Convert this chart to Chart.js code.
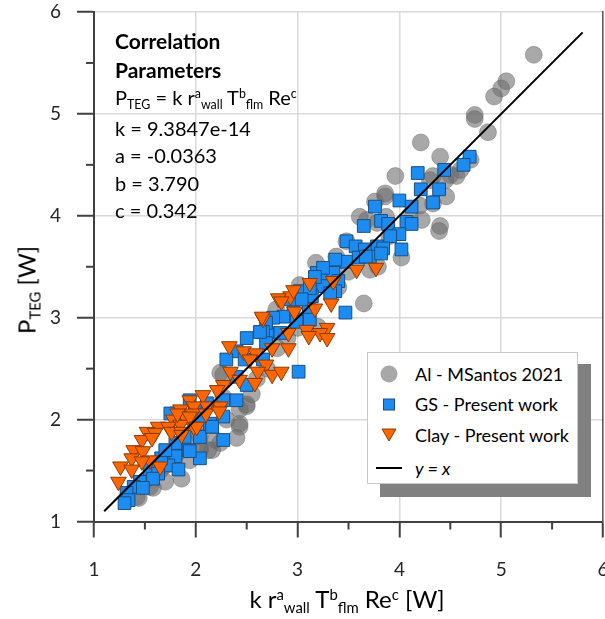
<!DOCTYPE html>
<html>
<head>
<meta charset="utf-8">
<script src="https://cdn.jsdelivr.net/npm/chart.js@4.4.0/dist/chart.umd.min.js"></script>
<style>
html, body { margin: 0; padding: 0; background: #fff; overflow: hidden; }
#wrap { position: relative; width: 605px; height: 619px; overflow: hidden; font-family: Lato, 'Open Sans', sans-serif; color: #000; }
#chart { position: absolute; left: 0; top: 0; }
.sb { font-size: 0.62em; position: relative; top: 0.35em; }
.sp { font-size: 0.62em; position: relative; top: -0.55em; }
#note { position: absolute; left: 115px; top: 27px; font-size: 20px; line-height: 27.5px; white-space: nowrap; }
#note b { font-weight: 700; font-size: 21px; }
#xtitle { position: absolute; left: 0; width: 694px; top: 584px; text-align: center; font-size: 24px; white-space: nowrap; }
#ytitle { position: absolute; left: 26px; top: 290px; transform: translate(-50%, -50%) rotate(-90deg); font-size: 24px; white-space: nowrap; }
#lshadow { position: absolute; left: 380px; top: 364px; width: 211px; height: 133px; background: #808080; }
#legend { position: absolute; left: 367px; top: 352px; width: 211px; height: 132px; background: #fff; border: 1px solid #c8c8c8; box-sizing: border-box; font-size: 18px; }
#legend .row { position: absolute; left: 47px; height: 24px; line-height: 24px; white-space: nowrap; }
#legend svg { position: absolute; }
</style>
</head>
<body>
<div id="wrap">
  <canvas id="chart" width="625" height="619"></canvas>
  <div id="note">
    <b>Correlation</b><br>
    <b>Parameters</b><br>
    P<span class="sb">TEG</span> = k r<span class="sp">a</span><span class="sb">wall</span> T<span class="sp">b</span><span class="sb">flm</span> Re<span class="sp">c</span><br>
    k = 9.3847e-14<br>
    a = -0.0363<br>
    b = 3.790<br>
    c = 0.342
  </div>
  <div id="ytitle">P<span class="sb">TEG</span> [W]</div>
  <div id="xtitle">k r<span class="sp">a</span><span class="sb">wall</span> T<span class="sp">b</span><span class="sb">flm</span> Re<span class="sp">c</span> [W]</div>
  <div id="lshadow"></div>
  <div id="legend">
    <svg width="30" height="130" style="left:6px;top:0">
      <circle cx="15" cy="21" r="8.5" fill="rgba(110,110,110,0.6)" />
      <rect x="9.5" y="46" width="11" height="11" fill="#1c8cf2" stroke="#1a4f80" stroke-width="1" />
      <polygon points="8,76 22,76 15,88" fill="#ff6600" stroke="#8a3a00" stroke-width="1" />
      <line x1="2" y1="115" x2="28" y2="115" stroke="#000" stroke-width="2" />
    </svg>
    <div class="row" style="top:9px">Al - MSantos 2021</div>
    <div class="row" style="top:39px">GS - Present work</div>
    <div class="row" style="top:70px">Clay - Present work</div>
    <div class="row" style="top:103px"><i>y = x</i></div>
  </div>
</div>
<script>
// Ejes
const tickValues = [1, 2, 3, 4, 5, 6];
const minorValues = [1.5, 2.5, 3.5, 4.5, 5.5];

// Al - MSantos 2021
const alX = [5.32, 5.05, 5.00, 4.93, 4.74, 4.74, 4.87, 4.40, 4.21, 3.96, 4.33, 4.30, 4.46, 4.56, 4.33, 3.86, 3.76, 4.22, 4.40, 3.68,
  3.86, 4.39, 4.02, 3.87, 3.48, 3.18, 3.79, 3.65, 3.29, 3.02, 3.71, 3.78, 3.61, 3.38, 2.79, 3.20, 2.24, 2.50, 2.43, 2.43,
  2.43, 2.40, 2.24, 2.16, 2.27, 2.04, 1.90, 1.70, 1.55, 1.42, 2.27, 2.50, 2.19, 2.12, 2.04, 1.86, 1.58, 1.44, 1.63, 1.94,
  2.04, 2.60, 2.70, 2.90, 3.10, 2.55, 2.30, 2.00, 1.80, 1.70, 3.40, 3.50, 3.90, 4.10, 4.20, 4.50, 4.45, 4.60, 3.00, 2.80,
  1.65, 1.50, 4.70];
const alY = [5.58, 5.32, 5.25, 5.17, 4.99, 4.95, 4.82, 4.58, 4.72, 4.39, 4.39, 4.35, 4.19, 4.39, 4.12, 4.19, 4.14, 3.96, 3.90, 3.96,
  4.22, 3.85, 3.59, 3.99, 3.75, 3.54, 3.50, 3.14, 3.40, 3.32, 3.47, 3.93, 3.99, 3.60, 3.08, 2.91, 2.46, 2.13, 1.96, 2.10,
  1.93, 1.82, 1.77, 1.70, 2.44, 1.83, 1.77, 1.39, 1.34, 1.24, 2.22, 2.15, 1.80, 1.70, 1.72, 1.42, 1.33, 1.23, 1.54, 1.60,
  1.70, 2.40, 2.50, 2.80, 3.00, 2.25, 2.00, 1.90, 1.65, 1.55, 3.30, 3.45, 3.80, 4.00, 4.10, 4.40, 4.35, 4.45, 2.90, 2.70,
  1.50, 1.40, 4.55];

// GS - Present work
const gsX = [4.69, 4.63, 4.18, 4.44, 4.39, 4.21, 4.33, 4.00, 4.12, 3.76, 3.82, 3.89, 4.07, 4.12, 3.65, 4.00, 3.91, 3.78, 4.02, 3.84,
  3.48, 3.57, 3.66, 3.71, 3.38, 3.48, 3.60, 3.19, 3.27, 3.35, 3.40, 3.25, 3.37, 3.02, 3.14, 2.93, 3.47, 3.11, 2.96, 2.86,
  3.37, 3.82, 3.67, 3.25, 3.17, 3.32, 3.12, 3.04, 2.99, 3.12, 2.76, 2.70, 2.69, 2.66, 2.83, 2.69, 2.50, 2.40, 2.30, 2.48,
  2.66, 3.01, 2.40, 2.50, 2.40, 2.27, 2.11, 1.94, 1.99, 2.27, 1.81, 2.14, 1.75, 1.91, 2.14, 2.04, 1.89, 1.80, 1.93, 2.04,
  1.80, 1.73, 1.83, 1.55, 1.63, 1.58, 1.45, 1.39, 1.48, 1.32, 1.34, 1.30, 2.27, 2.16, 1.94, 2.63, 2.04, 1.66, 1.70];
const gsY = [4.58, 4.50, 4.42, 4.45, 4.26, 4.26, 4.13, 4.15, 4.09, 4.09, 3.95, 3.92, 3.94, 3.92, 3.90, 3.82, 3.80, 3.70, 3.67, 3.68,
  3.75, 3.70, 3.67, 3.60, 3.55, 3.55, 3.59, 3.44, 3.40, 3.44, 3.36, 3.31, 3.26, 3.26, 3.21, 3.18, 3.05, 3.08, 3.05, 3.01,
  3.57, 3.63, 3.60, 3.49, 3.40, 3.24, 3.29, 3.18, 2.96, 2.98, 3.00, 2.85, 2.95, 2.86, 2.85, 2.75, 2.80, 2.67, 2.59, 2.59,
  2.59, 2.47, 2.42, 2.34, 2.19, 2.19, 2.16, 2.19, 2.10, 2.03, 2.06, 1.96, 2.06, 2.02, 1.93, 1.83, 1.83, 1.77, 1.70, 1.62,
  1.64, 1.55, 1.51, 1.51, 1.47, 1.42, 1.39, 1.34, 1.33, 1.28, 1.21, 1.18, 1.80, 1.93, 1.69, 2.86, 2.03, 1.62, 1.70];

// Clay - Present work
const clayX = [3.58, 3.77, 3.35, 3.12, 2.93, 3.33, 3.17, 2.97, 3.29, 3.09, 2.96, 2.81, 2.66, 3.22, 2.91, 2.84, 2.65, 3.11, 3.29, 2.33,
  2.47, 2.59, 2.75, 2.91, 2.53, 2.69, 2.34, 2.61, 2.75, 2.84, 2.43, 2.27, 2.58, 2.21, 2.07, 1.94, 2.24, 2.11, 1.98, 1.85,
  1.89, 1.78, 1.98, 1.85, 1.82, 1.97, 2.10, 1.94, 2.23, 1.63, 1.73, 1.52, 1.60, 1.76, 1.86, 2.01, 1.47, 1.57, 1.39, 1.48,
  1.37, 1.55, 1.47, 1.26, 1.37, 1.65, 1.24, 1.86];
const clayY = [3.47, 3.49, 3.36, 3.34, 3.21, 3.14, 3.09, 3.06, 2.90, 2.88, 3.27, 3.19, 2.99, 2.85, 2.85, 3.16, 3.01, 2.82, 2.80, 2.72,
  2.67, 2.65, 2.70, 2.70, 2.59, 2.54, 2.47, 2.47, 2.44, 2.47, 2.39, 2.34, 2.36, 2.29, 2.24, 2.19, 2.13, 2.13, 2.13, 2.10,
  2.03, 2.00, 1.93, 1.95, 2.06, 2.06, 2.06, 2.03, 2.08, 1.93, 1.93, 1.88, 1.87, 1.88, 1.88, 1.93, 1.80, 1.82, 1.70, 1.69,
  1.62, 1.60, 1.59, 1.54, 1.51, 1.54, 1.39, 1.85];

// Linea y = x
const lineX = [1.1, 5.8];

const axisColor = '#404040';
const gridColor = '#d9d9d9';

function toPoints(xs, ys) {
    return xs.map((x, i) => ({ x: x, y: ys[i] }));
}

// Ticks menores (sin etiqueta)
const minorTicks = {
    id: 'minorTicks',
    afterDraw(chart) {
        const { ctx, scales: { x, y } } = chart;
        ctx.save();
        ctx.strokeStyle = axisColor;
        ctx.lineWidth = 2;
        minorValues.forEach(v => {
            const px = x.getPixelForValue(v);
            ctx.beginPath();
            ctx.moveTo(px, x.top);
            ctx.lineTo(px, x.top + 8);
            ctx.stroke();
            const py = y.getPixelForValue(v);
            ctx.beginPath();
            ctx.moveTo(y.right, py);
            ctx.lineTo(y.right - 8, py);
            ctx.stroke();
        });
        ctx.restore();
    }
};

Chart.defaults.font.family = 'Lato';

const ctx = document.getElementById('chart').getContext('2d');
const chart = new Chart(ctx, {
    type: 'scatter',
    data: {
        datasets: [
            {
                type: 'line',
                label: 'y = x',
                data: toPoints(lineX, lineX),
                borderColor: '#000',
                borderWidth: 2,
                pointRadius: 0,
                order: 0
            },
            {
                label: 'Clay - Present work',
                data: toPoints(clayX, clayY),
                pointStyle: 'triangle',
                pointRotation: 180,
                pointRadius: 9,
                backgroundColor: '#ff6600',
                borderColor: '#8a3a00',
                borderWidth: 1,
                order: 1
            },
            {
                label: 'GS - Present work',
                data: toPoints(gsX, gsY),
                pointStyle: 'rect',
                pointRadius: 9,
                backgroundColor: '#1c8cf2',
                borderColor: '#1a4f80',
                borderWidth: 1,
                order: 2
            },
            {
                label: 'Al - MSantos 2021',
                data: toPoints(alX, alY),
                pointStyle: 'circle',
                pointRadius: 8.5,
                backgroundColor: 'rgba(110,110,110,0.6)',
                borderColor: 'rgba(90,90,90,0.35)',
                borderWidth: 1,
                order: 3
            }
        ]
    },
    options: {
        responsive: false,
        animation: false,
        layout: { padding: { top: 12, right: 22, bottom: 0, left: 0 } },
        plugins: {
            legend: { display: false },
            tooltip: { enabled: false }
        },
        scales: {
            x: {
                type: 'linear',
                min: 1,
                max: 6,
                afterBuildTicks: s => { s.ticks = tickValues.map(v => ({ value: v })); },
                afterFit: s => { s.height = 97.5; s.paddingLeft = 0; s.paddingRight = 0; },
                grid: { color: gridColor, lineWidth: 1.5, tickLength: 16, tickColor: axisColor, tickWidth: 2 },
                border: { color: axisColor, width: 2 },
                ticks: { color: '#262626', font: { size: 19 }, padding: 21 }
            },
            y: {
                type: 'linear',
                min: 1,
                max: 6,
                afterBuildTicks: s => { s.ticks = tickValues.map(v => ({ value: v })); },
                afterFit: s => { s.width = 94; s.paddingTop = 0; s.paddingBottom = 0; },
                grid: { color: gridColor, lineWidth: 1.5, tickLength: 17, tickColor: axisColor, tickWidth: 2 },
                border: { color: axisColor, width: 2 },
                ticks: { color: '#262626', font: { size: 19 }, padding: 16 }
            },
            y2: {
                type: 'linear',
                position: 'right',
                min: 1,
                max: 6,
                afterFit: s => { s.width = 0; s.paddingTop = 0; s.paddingBottom = 0; },
                grid: { drawOnChartArea: false, drawTicks: false },
                border: { color: '#595959', width: 1.5 },
                ticks: { display: false }
            }
        }
    },
    plugins: [minorTicks]
});
</script>
</body>
</html>
